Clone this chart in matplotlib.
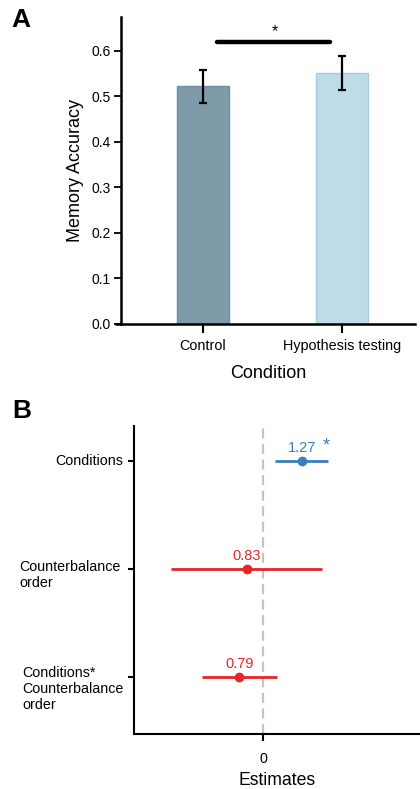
import matplotlib
matplotlib.use("Agg")
import matplotlib.pyplot as plt
import numpy as np

plt.rcParams['font.family'] = ['Liberation Sans', 'DejaVu Sans']

# ---- Panel A data ----
conditions = ["Control", "Hypothesis testing"]
accuracy = [0.522, 0.551]
acc_err = [0.037, 0.037]
bar_colors = ["#7f9ba9", "#bedbe8"]
bar_edges = ["#6f8ea0", "#a8cde3"]
a_yticks = [0.0, 0.1, 0.2, 0.3, 0.4, 0.5, 0.6]

# ---- Panel B data ----
terms = ["Conditions", "Counterbalance\norder", "Conditions*\nCounterbalance\norder"]
est_labels = ["1.27", "0.83", "0.79"]
est_pos = [0.384, -0.166, -0.240]
ci_low = [0.117, -0.926, -0.610]
ci_high = [0.650, 0.590, 0.134]
significant = [True, False, False]
term_colors = ["#3a80c0", "#e4262b", "#e4262b"]

fig = plt.figure(figsize=(4.2, 7.89), dpi=100)

# ================= Panel A =================
axA = fig.add_axes([0.2874, 0.5894, 0.7007, 0.3887])
xA = np.arange(len(conditions))
axA.bar(xA, accuracy, width=0.375, color=bar_colors, edgecolor=bar_edges, linewidth=1.0, zorder=2)
axA.errorbar(xA, accuracy, yerr=acc_err, fmt='none', ecolor='black', elinewidth=1.6,
             capsize=3.2, capthick=1.6, zorder=3)
axA.set_xlim(-0.592, 1.525)
axA.set_ylim(0, 0.674)
axA.set_yticks(a_yticks)
axA.set_yticklabels([f"{v:.1f}" for v in a_yticks])
axA.set_xticks(xA)
axA.set_xticklabels(conditions)
for s in ['top', 'right']:
    axA.spines[s].set_visible(False)
for s in ['left', 'bottom']:
    axA.spines[s].set_linewidth(1.8)
axA.tick_params(axis='y', length=5, width=1.3, labelsize=10, pad=2)
axA.tick_params(axis='x', length=6.5, width=1.5, labelsize=10.4, pad=4)
axA.set_ylabel("Memory Accuracy", fontsize=13, labelpad=5.5)
axA.set_xlabel("Condition", fontsize=13, labelpad=9)
axA.plot([-0.02, 0], [0, 0], transform=axA.transAxes, color='black', lw=1.8, clip_on=False,
         solid_capstyle='butt')
# significance bar
axA.plot([0.1, 0.91], [0.620, 0.620], color='black', lw=3.2, solid_capstyle='round', zorder=3)
axA.text(0.52, 0.6255, "*", ha='center', va='bottom', fontsize=11.5)
fig.text(0.028, 0.975, "A", fontsize=19, fontweight='bold', ha='left', va='center')

# ================= Panel B =================
axB = fig.add_axes([0.3198, 0.0697, 0.6802, 0.3908])
yB = np.arange(len(terms))
axB.axvline(0, color='#c4c4c4', lw=1.6, ls=(0, (4.5, 2.5)), zorder=1)
for i in range(len(terms)):
    axB.plot([ci_low[i], ci_high[i]], [yB[i], yB[i]], color=term_colors[i], lw=2.0,
             solid_capstyle='butt', zorder=2)
    axB.plot(est_pos[i], yB[i], 'o', color=term_colors[i], ms=6, zorder=3)
    axB.text(est_pos[i], yB[i] - 0.115, est_labels[i], color=term_colors[i], fontsize=10.5,
             ha='center', va='center', zorder=4)
    if significant[i]:
        axB.text(est_pos[i] + 0.245, yB[i] - 0.14, "*", color=term_colors[i], fontsize=13,
                 ha='center', va='center')
axB.set_xlim(-1.29, 1.567)
axB.set_ylim(2.53, -0.324)
axB.set_yticks(yB)
axB.set_yticklabels([])
# term labels placed beside their ticks (pixel nudges as in the original layout)
label_shift_px = [(-11, 0), (-14, -6), (-11, -12)]
for i, (dx, dy) in enumerate(label_shift_px):
    axB.annotate(terms[i], xy=(0, yB[i]), xycoords=axB.get_yaxis_transform(),
                 xytext=(dx * 0.72, dy * 0.72), textcoords='offset points',
                 ha='right', va='center', multialignment='left', fontsize=10.3,
                 annotation_clip=False)
axB.set_xticks([0])
axB.set_xticklabels(["0"])
for s in ['top', 'right']:
    axB.spines[s].set_visible(False)
for s in ['left', 'bottom']:
    axB.spines[s].set_linewidth(1.5)
axB.tick_params(axis='y', length=4, width=1.5)
axB.tick_params(axis='x', length=5, width=1.5, labelsize=10.3, pad=8)
axB.set_xlabel("Estimates", fontsize=12.7, labelpad=4)
fig.text(0.028, 0.4795, "B", fontsize=19, fontweight='bold', ha='left', va='center')

fig.savefig("out.png", dpi=100)
